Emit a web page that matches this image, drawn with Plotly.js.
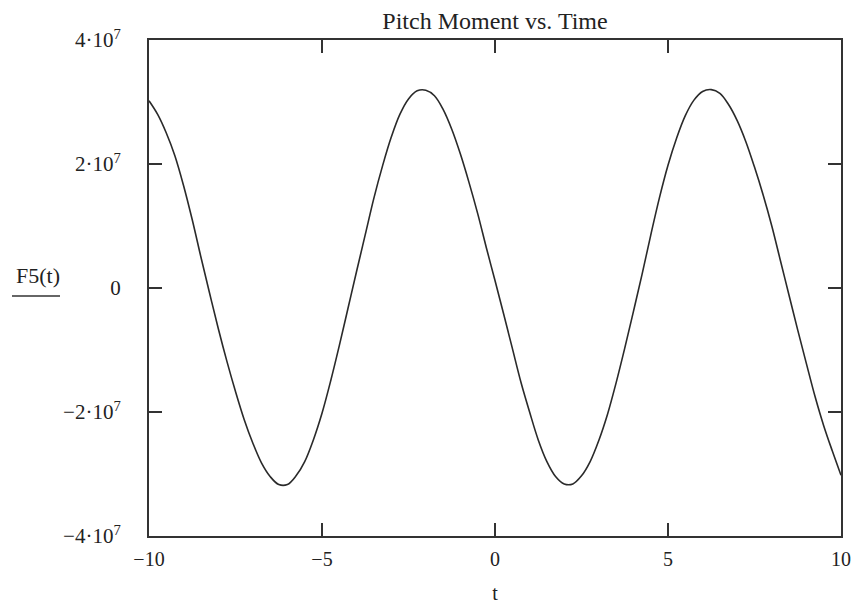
<!DOCTYPE html>
<html>
<head>
<meta charset="utf-8">
<script src="https://cdn.plot.ly/plotly-3.0.1.min.js"></script>
<style>html,body{margin:0;padding:0;background:#fff;}#chart{width:862px;height:604px;}</style>
</head>
<body>
<div id="chart"></div>
<script>
// Time values (t)
const tValues = [-10, -9.75, -9.5, -9.25, -9, -8.75, -8.5, -8.25, -8, -7.75, -7.5, -7.25, -7, -6.75, -6.5, -6.25, -6, -5.75, -5.5, -5.25, -5, -4.75, -4.5, -4.25, -4, -3.75, -3.5, -3.25, -3, -2.75, -2.5, -2.25, -2, -1.75, -1.5, -1.25, -1, -0.75, -0.5, -0.25, 0, 0.25, 0.5, 0.75, 1, 1.25, 1.5, 1.75, 2, 2.25, 2.5, 2.75, 3, 3.25, 3.5, 3.75, 4, 4.25, 4.5, 4.75, 5, 5.25, 5.5, 5.75, 6, 6.25, 6.5, 6.75, 7, 7.25, 7.5, 7.75, 8, 8.25, 8.5, 8.75, 9, 9.25, 9.5, 9.75, 10];
// Pitch moment F5(t), in units of 1e7
const f5Read = [3.02, 2.80, 2.50, 2.13, 1.65, 1.10, 0.50, -0.08, -0.65, -1.18, -1.67, -2.12, -2.50, -2.82, -3.04, -3.17, -3.17, -3.03, -2.80, -2.45, -2.02, -1.50, -0.93, -0.33, 0.27, 0.86, 1.45, 1.97, 2.43, 2.80, 3.05, 3.18, 3.19, 3.10, 2.88, 2.56, 2.16, 1.70, 1.20, 0.65, 0.12, -0.42, -0.97, -1.52, -2.00, -2.45, -2.80, -3.04, -3.16, -3.16, -3.03, -2.80, -2.46, -2.04, -1.53, -0.97, -0.38, 0.22, 0.85, 1.45, 1.98, 2.42, 2.78, 3.03, 3.17, 3.20, 3.14, 2.96, 2.70, 2.36, 1.95, 1.50, 1.00, 0.44, -0.12, -0.68, -1.22, -1.75, -2.22, -2.63, -3.02];
const f5Values = f5Read.map(v => v * 1e7);
const xTickVals = [-10, -5, 0, 5, 10];
const xTickText = ["−10", "−5", "0", "5", "10"];
const yTickVals = [4e7, 2e7, 0, -2e7, -4e7];
const yTickText = ["4·10<sup>7</sup>", "2·10<sup>7</sup>", "0", "−2·10<sup>7</sup>", "−4·10<sup>7</sup>"];

const font = "Liberation Serif, Times New Roman, serif";
const trace = {
  x: tValues, y: f5Values, type: "scatter", mode: "lines",
  line: {color: "#2a2a2a", width: 1.6, shape: "spline", smoothing: 1.0},
  hoverinfo: "skip"
};
const L = 149, R = 841, T = 40, B = 536;
const layout = {
  width: 862, height: 604,
  margin: {l: L, r: 862 - R, t: T, b: 604 - B, pad: 0},
  paper_bgcolor: "#fff", plot_bgcolor: "#fff",
  showlegend: false,
  font: {family: font, size: 20, color: "#222"},
  title: {text: "Pitch Moment vs. Time", font: {family: font, size: 24, color: "#222"},
          x: 0.5, xref: "paper", xanchor: "center", y: 1 - 21 / 604, yref: "container", yanchor: "middle"},
  xaxis: {
    range: [-10, 10], tickvals: xTickVals, ticktext: xTickText,
    ticks: "inside", ticklen: 13, tickwidth: 1.5, tickcolor: "#333",
    showline: true, linecolor: "#333", linewidth: 2, mirror: "ticks",
    showgrid: false, zeroline: false, ticklabelstandoff: 4,
    tickfont: {family: font, size: 20, color: "#222"},
    title: {text: "t", font: {family: font, size: 20, color: "#222"}, standoff: 20}
  },
  yaxis: {
    range: [-4e7, 4e7], tickvals: yTickVals, ticktext: yTickText,
    ticks: "inside", ticklen: 13, tickwidth: 1.5, tickcolor: "#333",
    showline: true, linecolor: "#333", linewidth: 2, mirror: "ticks",
    showgrid: false, zeroline: false, ticklabelstandoff: 22,
    tickfont: {family: font, size: 21, color: "#222"}
  },
  annotations: [{
    text: "F5(t)", xref: "paper", yref: "paper",
    x: (38 - L) / (R - L), y: (B - 275) / (B - T), xanchor: "center", yanchor: "middle",
    showarrow: false, font: {family: font, size: 22, color: "#222"}
  }],
  shapes: [{
    type: "line", xref: "paper", yref: "paper",
    x0: (12 - L) / (R - L), x1: (60 - L) / (R - L),
    y0: (B - 296) / (B - T), y1: (B - 296) / (B - T),
    line: {color: "#333", width: 1.5}
  }]
};
Plotly.newPlot("chart", [trace], layout, {displayModeBar: false, staticPlot: true});
</script>
</body>
</html>
